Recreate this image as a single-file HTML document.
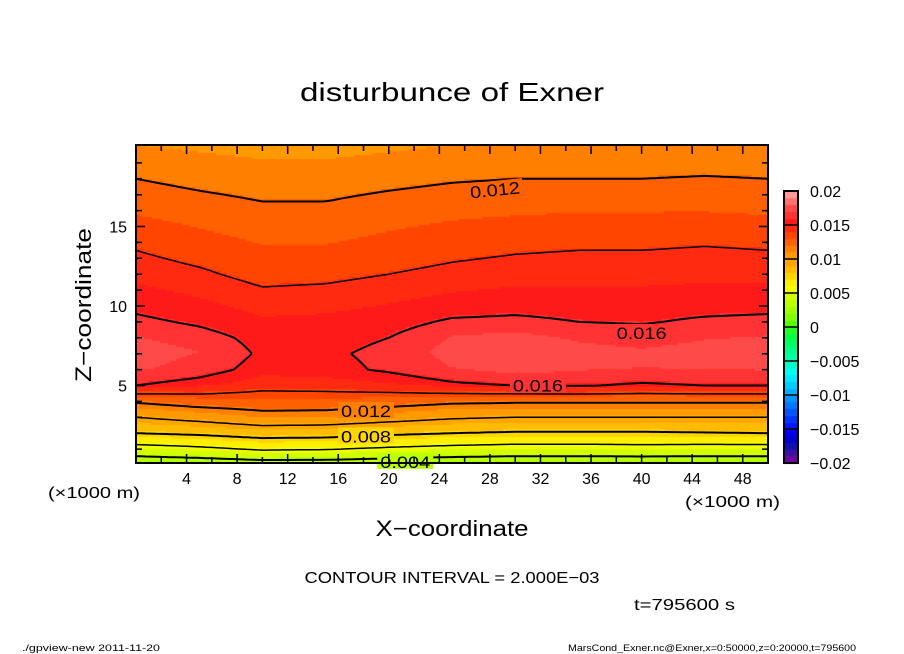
<!DOCTYPE html>
<html><head><meta charset="utf-8">
<style>
body{margin:0;background:#fff;}
#wrap{position:relative;width:904px;height:654px;overflow:hidden;background:#fff;font-family:"Liberation Sans",sans-serif;}
canvas,svg{position:absolute;left:0;top:0;}
</style></head>
<body>
<div id="wrap">
<canvas id="cv" width="904" height="654"></canvas>
<svg id="sv" width="904" height="654"></svg>
</div>
<script>
// ---- data (values in units of 1e-3) ----
const xCoords = [0,5,10,15,20,25,30,35,40,45,50];
const zCoords = [0,1,2,3,4,5,6,7,8,9,10,12,14,16,18,20];
const col0  = [2.5,5.2,8.0,10.0,12.2,16.0,17.2,17.5,17.0,16.3,15.7,14.6,13.8,12.8,12.0,11.0];
const col5  = [2.7,5.6,8.3,10.6,12.8,15.4,16.6,17.0,16.5,15.8,15.2,14.2,13.3,12.5,11.7,10.8];
const col10 = [3.0,6.2,8.8,11.3,13.0,14.5,15.5,15.8,15.6,15.1,14.6,13.6,12.9,12.2,11.5,10.6];
const col15 = [3.0,6.1,8.7,11.2,13.0,14.6,15.6,15.8,15.6,15.2,14.7,13.7,12.9,12.2,11.5,10.6];
const col20 = [2.8,5.7,8.3,10.7,12.7,15.0,16.2,16.3,16.0,15.5,15.0,14.0,13.2,12.5,11.7,10.8];
const col25 = [2.6,5.4,8.0,10.2,12.3,15.7,17.0,17.4,17.0,16.2,15.4,14.3,13.5,12.7,11.9,11.0];
const col30 = [2.5,5.2,7.8,10.0,12.2,16.0,17.6,18.0,17.2,16.3,15.6,14.5,13.7,12.8,12.0,11.1];
const col35 = [2.5,5.2,7.8,10.0,12.2,16.1,17.2,17.3,16.8,16.0,15.5,14.6,13.8,12.9,12.0,11.0];
const col40 = [2.5,5.3,7.8,10.0,12.2,15.8,17.0,17.1,16.6,15.9,15.5,14.6,13.8,12.9,12.0,11.0];
const col45 = [2.5,5.2,7.9,10.0,12.2,16.0,17.1,17.3,16.9,16.2,15.6,14.7,13.9,12.9,12.1,11.0];
const col50 = [2.5,5.2,8.0,10.0,12.2,16.0,17.2,17.5,17.0,16.3,15.7,14.6,13.8,12.8,12.0,11.0];
const columns = [col0,col5,col10,col15,col20,col25,col30,col35,col40,col45,col50];
const xTicks = [4,8,12,16,20,24,28,32,36,40,44,48];
const zTicks = [5,10,15];
const cbTicks = ["0.02","0.015","0.01","0.005","0","-0.005","-0.01","-0.015","-0.02"];
const contourLevels = [4,6,8,10,12,14,16];
const contourLabels = [
 {t:"0.012",x:28.4,z:17.3,r:-6},{t:"0.016",x:40,z:8.3,r:0},{t:"0.016",x:31.8,z:5,r:0},
 {t:"0.012",x:18.2,z:3.4,r:0},{t:"0.008",x:18.2,z:1.8,r:0},{t:"0.004",x:21.3,z:0.2,r:0}];
// palette: 40 bands of 0.001 from -0.020 to 0.020
const palette = ["#7000a0","#4010a0","#1010b0","#0000d0","#0000f0","#0018ff","#0035ff","#0055ff","#0075ff","#0095ff",
"#00b0ff","#00ccff","#00e8ff","#00ffee","#00ffcc","#00ffaa","#00ff88","#00ff66","#00ff44","#22ff22",
"#55ff00","#80ff00","#a0ff00","#bbff00","#d4ff00","#f0ff00","#ffee00","#ffd500","#ffbb00","#ffa500",
"#ff9900","#ff8000","#ff6000","#ff4500","#ff2a10","#ff1a1a","#ff3333","#ff4a4a","#ff7070","#ff9a9a"];

// ---- axes ----
const PX0=136,PX1=768,PY0=145,PY1=463;
const X=x=>PX0+(x/50)*(PX1-PX0);
const Z=z=>PY1-(z/20)*(PY1-PY0)+2;
function field(x,z){
  let i=Math.min(Math.floor(x/5),9); const tx=(x-xCoords[i])/5;
  let j=0; while(j<zCoords.length-2 && z>zCoords[j+1]) j++;
  const tz=Math.max(0,Math.min(1,(z-zCoords[j])/(zCoords[j+1]-zCoords[j])));
  const a=columns[i][j],b=columns[i+1][j],c=columns[i][j+1],d=columns[i+1][j+1];
  return (a*(1-tx)+b*tx)*(1-tz)+(c*(1-tx)+d*tx)*tz;
}
const cv=document.getElementById('cv'),ctx=cv.getContext('2d');
const step=2;
for(let px=PX0;px<PX1;px+=step){for(let py=PY0;py<PY1;py+=step){
  const x=(px+step/2-PX0)/(PX1-PX0)*50, z=(PY1-(py+step/2))/(PY1-PY0)*20;
  const v=field(x,Math.max(0,Math.min(20,z)));
  let k=Math.floor(v+20); k=Math.max(0,Math.min(39,k));
  ctx.fillStyle=palette[k]; ctx.fillRect(px,py,step,step);
}}
// colorbar
const CB0=191,CB1=463;
for(let k=0;k<40;k++){ctx.fillStyle=palette[k];const y0=CB1-(k+1)*(CB1-CB0)/40;ctx.fillRect(784,y0,14,(CB1-CB0)/40+0.5);}

const NS="http://www.w3.org/2000/svg",sv=document.getElementById('sv');
function el(tag,at,parent){const e=document.createElementNS(NS,tag);for(const k in at)e.setAttribute(k,at[k]);(parent||sv).appendChild(e);return e;}
function txt(s,x,y,size,anchor,name,extra){const t=el('text',Object.assign({x:x,y:y,'font-size':size,'text-anchor':anchor||'middle',fill:'#000','font-family':'Liberation Sans, sans-serif'},extra||{}));t.textContent=s;return t;}

// contours via marching squares
const NX=125,NZ=80;
const g=[];for(let i=0;i<=NX;i++){g.push([]);for(let j=0;j<=NZ;j++)g[i].push(field(i*50/NX,j*20/NZ));}
contourLevels.forEach(L=>{
  let d="";
  for(let i=0;i<NX;i++)for(let j=0;j<NZ;j++){
    const pts=[];const c=[[i,j],[i+1,j],[i+1,j+1],[i,j+1]];
    for(let e=0;e<4;e++){const p=c[e],q=c[(e+1)%4];const a=g[p[0]][p[1]]-L,b=g[q[0]][q[1]]-L;
      if((a<0)!==(b<0)){const t=a/(a-b);pts.push([X((p[0]+(q[0]-p[0])*t)*50/NX),Z((p[1]+(q[1]-p[1])*t)*20/NZ)]);}}
    if(pts.length>=2){d+=`M${pts[0][0].toFixed(1)},${pts[0][1].toFixed(1)}L${pts[1][0].toFixed(1)},${pts[1][1].toFixed(1)}`;
      if(pts.length===4)d+=`M${pts[2][0].toFixed(1)},${pts[2][1].toFixed(1)}L${pts[3][0].toFixed(1)},${pts[3][1].toFixed(1)}`;}
  }
  const p=el('path',{d:d,stroke:'#000','stroke-width':(L%4===0?2:1.5),fill:'none'});
  
  
});
contourLabels.forEach(c=>{
  const x=X(c.x),y=Z(c.z);
  const v=Math.floor(field(c.x,c.z)+20);
  const bg=el('rect',{x:x-28,y:y-9,width:56,height:16,fill:palette[Math.max(0,Math.min(39,v))],transform:`rotate(${c.r} ${x} ${y})`});
  
  
  txt(c.t,x,y+6,17,'middle','contour-label',{transform:`rotate(${c.r} ${x} ${y})`,textLength:50,lengthAdjust:'spacingAndGlyphs'});
});

// frame
const fr=el('rect',{x:PX0,y:PY0,width:PX1-PX0,height:PY1-PY0,fill:'none',stroke:'#000','stroke-width':2});


let tk="";
for(let x=2;x<50;x+=2){const len=(x%4===0)?9:6;tk+=`M${X(x)},${PY1}v${-len}M${X(x)},${PY0}v${len}`;}
for(let z=1;z<20;z++){const len=(z%5===0)?9:6;tk+=`M${PX0},${Z(z)}h${len}M${PX1},${Z(z)}h${-len}`;}
const tp=el('path',{d:tk,stroke:'#000','stroke-width':1.5,fill:'none'});


xTicks.forEach(v=>txt(String(v),X(v),484,16,'middle','x-tick-label'));
zTicks.forEach(v=>txt(String(v),127,Z(v)+6,16,'end','z-tick-label'));
const cbf=el('rect',{x:784,y:CB0,width:14,height:CB1-CB0,fill:'none',stroke:'#000','stroke-width':2});


let cbl="";for(let k=1;k<8;k++){const y=CB1-k*(CB1-CB0)/8;cbl+=`M784,${y}h14`;}
const cbp=el('path',{d:cbl,stroke:'#000','stroke-width':1.5});


cbTicks.forEach((s,k)=>txt(s.replace('-','\u2212'),810,CB0+k*(CB1-CB0)/8+6,16,'start','colorbar-tick-label'));

txt("disturbunce of Exner",452,101,26,'middle','chart-title',{textLength:304,lengthAdjust:'spacingAndGlyphs'});
txt("X\u2212coordinate",452,536,22,'middle','x-axis-title',{textLength:153,lengthAdjust:'spacingAndGlyphs'});
txt("Z\u2212coordinate",0,0,22,'middle','z-axis-title',{transform:'translate(91,305) rotate(-90)',textLength:154,lengthAdjust:'spacingAndGlyphs'});
txt("(\u00d71000 m)",48,498,16,'start','x-unit-left',{textLength:92,lengthAdjust:'spacingAndGlyphs'});
txt("(\u00d71000 m)",685,507,16,'start','x-unit-right',{textLength:95,lengthAdjust:'spacingAndGlyphs'});
txt("CONTOUR INTERVAL = 2.000E\u221203",452,583,16,'middle','contour-interval',{textLength:295,lengthAdjust:'spacingAndGlyphs'});
txt("t=795600 s",634,610,16,'start','time-label',{textLength:101,lengthAdjust:'spacingAndGlyphs'});
txt("./gpview-new   2011-11-20",22,651,9,'start','footer-left',{textLength:138,lengthAdjust:'spacingAndGlyphs'});
txt("MarsCond_Exner.nc@Exner,x=0:50000,z=0:20000,t=795600",568,651,9,'start','footer-right',{textLength:288,lengthAdjust:'spacingAndGlyphs'});
</script>
</body></html>
